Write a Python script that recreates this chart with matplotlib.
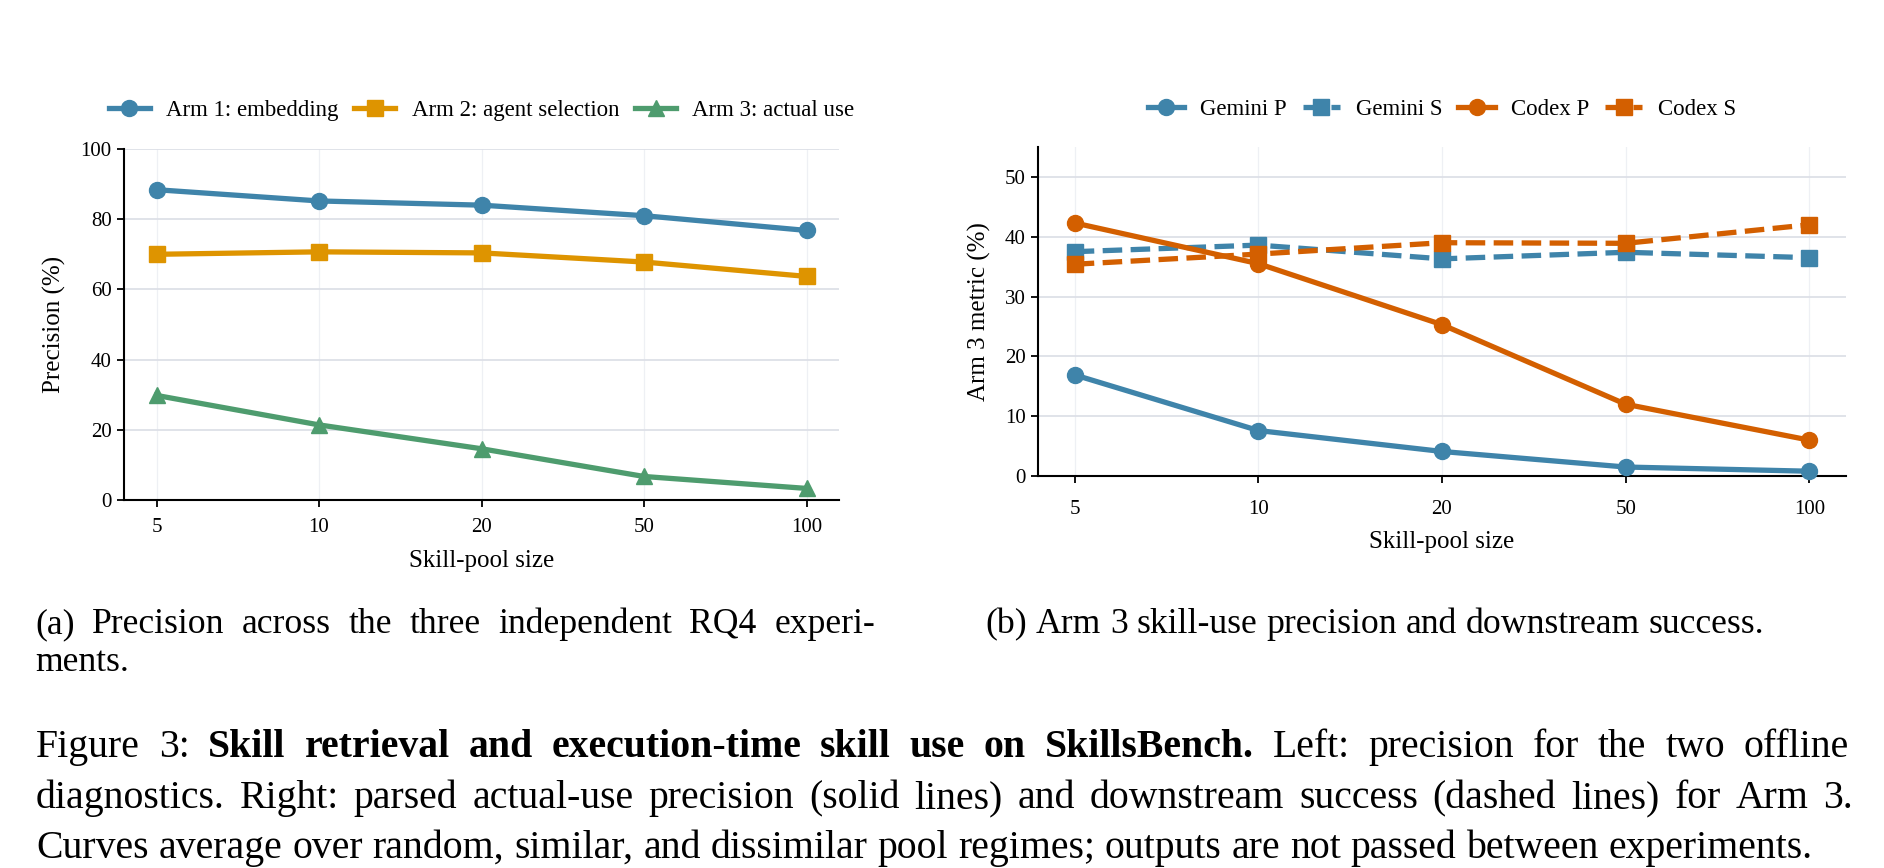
import numpy as np
import matplotlib.pyplot as plt

plt.rcParams['font.family'] = ['Liberation Serif', 'DejaVu Serif']

# x categories (skill-pool size)
pool_sizes = ["5", "10", "20", "50", "100"]

# (a) precision of the three experiments
arm1_embedding = [88.4, 85.2, 84.0, 81.0, 76.8]
arm2_agent_sel = [70.0, 70.7, 70.4, 67.8, 63.7]
arm3_actual_use = [29.8, 21.4, 14.6, 6.7, 3.3]

# (b) arm 3 precision (P) and downstream success (S)
gemini_p = [16.9, 7.6, 4.1, 1.5, 0.8]
gemini_s = [37.5, 38.6, 36.3, 37.4, 36.5]
codex_p = [42.3, 35.5, 25.3, 12.0, 6.0]
codex_s = [35.4, 37.1, 39.0, 38.9, 42.0]

# caption text
sub_a = ["(a) Precision across the three independent RQ4 experi-", "ments."]
sub_b = "(b) Arm 3 skill-use precision and downstream success."
cap_lead = "Figure 3:"
cap_bold = "Skill retrieval and execution-time skill use on SkillsBench."
cap_rest1 = "Left: precision for the two offline"
cap_line2 = ("diagnostics. Right: parsed actual-use precision (solid lines) "
             "and downstream success (dashed lines) for Arm 3.")
cap_line3 = ("Curves average over random, similar, and dissimilar pool regimes; "
             "outputs are not passed between experiments.")

BLUE = "#3f84aa"
GOLD = "#de9400"
GREEN = "#4e9c6e"
ORANGE = "#d35f00"

fig = plt.figure(figsize=(18.84, 8.68), dpi=100)
W, H = 1884.0, 868.0


def style_axes(ax, ymax, ystep, pad, labelpad):
    x = np.arange(len(pool_sizes))
    ax.set_xticks(x)
    ax.set_xticklabels(pool_sizes)
    ax.set_xlim(-0.2, len(pool_sizes) - 0.8)
    ax.set_ylim(0, ymax)
    ax.set_yticks(np.arange(0, ymax + 0.1, ystep))
    for s in ["top", "right"]:
        ax.spines[s].set_visible(False)
    for s in ["left", "bottom"]:
        ax.spines[s].set_linewidth(1.5)
        ax.spines[s].set_color("black")
    ax.tick_params(axis="both", labelsize=15, width=1.3, length=5,
                   direction="out", colors="black")
    ax.tick_params(axis="x", pad=pad)
    ax.tick_params(axis="y", pad=4)
    ax.grid(axis="y", color="#dde0e7", lw=1.3)
    ax.grid(axis="x", color="#eef0f4", lw=0.9)
    ax.set_axisbelow(True)
    ax.set_xlabel("Skill-pool size", fontsize=18, labelpad=labelpad)


line_kw = dict(lw=3.8, markersize=11.5, clip_on=False, zorder=3)

# ---- (a) ----
ax1 = fig.add_axes([124 / W, 1 - 500 / H, 715 / W, 351 / H])
x = np.arange(len(pool_sizes))
ax1.plot(x, arm1_embedding, marker="o", color=BLUE, label="Arm 1: embedding", **line_kw)
ax1.plot(x, arm2_agent_sel, marker="s", color=GOLD, label="Arm 2: agent selection", **line_kw)
ax1.plot(x, arm3_actual_use, marker="^", color=GREEN, label="Arm 3: actual use", **line_kw)
style_axes(ax1, 100, 20, pad=8, labelpad=9)
ax1.set_ylabel("Precision (%)", fontsize=18, labelpad=10)
ax1.legend(loc="center", bbox_to_anchor=(0.5, 1.11), ncol=3, frameon=False,
           fontsize=16.5, handlelength=1.8, handletextpad=0.7, columnspacing=0.7)

# ---- (b) ----
ax2 = fig.add_axes([1038 / W, 1 - 476 / H, 808 / W, 329 / H])
ax2.plot(x, gemini_p, marker="o", ls="-", color=BLUE, label="Gemini P", **line_kw)
ax2.plot(x, gemini_s, marker="s", ls="--", color=BLUE, label="Gemini S", **line_kw)
ax2.plot(x, codex_p, marker="o", ls="-", color=ORANGE, label="Codex P", **line_kw)
ax2.plot(x, codex_s, marker="s", ls="--", color=ORANGE, label="Codex S", **line_kw)
style_axes(ax2, 55, 10, pad=12, labelpad=9)
ax2.set_ylabel("Arm 3 metric (%)", fontsize=18, labelpad=10)
ax2.legend(loc="center", bbox_to_anchor=(0.5, 1.115), ncol=4, frameon=False,
           fontsize=16.5, handlelength=1.6, handletextpad=0.7, columnspacing=0.7)

# ---- captions ----
renderer = fig.canvas.get_renderer()


def text_line(words, y, x0, size, x1=None):
    """words: list of (word, weight); y is baseline in px from top."""
    objs = [fig.text(0, 1 - y / H, w, fontsize=size, fontweight=wt, va="baseline")
            for w, wt in words]
    widths = [t.get_window_extent(renderer).width for t in objs]
    if x1 is None or len(objs) < 2:
        gap = 0.25 * size * fig.dpi / 72
    else:
        gap = (x1 - x0 - sum(widths)) / (len(objs) - 1)
    xx = x0
    for t, w in zip(objs, widths):
        t.set_x(xx / W)
        xx += w + gap


def plain(s, wt="normal"):
    return [(w, wt) for w in s.split()]


SUB = 25.7
CAP = 28.6
text_line(plain(sub_a[0]), 633, 35, SUB, x1=875)
text_line(plain(sub_a[1]), 671, 35, SUB)
text_line(plain(sub_b), 633, 985, SUB)

text_line(plain(cap_lead) + plain(cap_bold, "bold") + plain(cap_rest1), 757, 36, CAP, x1=1849)
text_line(plain(cap_line2), 808, 36, CAP, x1=1853)
text_line(plain(cap_line3), 858, 36, CAP)

fig.savefig("out.png", dpi=100)
